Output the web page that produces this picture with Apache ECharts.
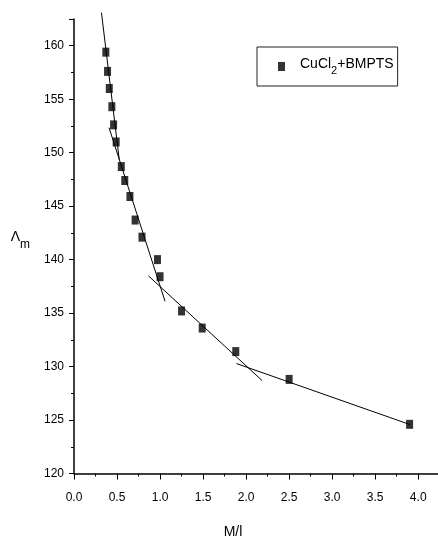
<!DOCTYPE html>
<html>
<head>
<meta charset="utf-8">
<script src="https://cdn.jsdelivr.net/npm/echarts@6/dist/echarts.min.js"></script>
<style>
html,body{margin:0;padding:0;background:#fff;}
#chart{width:438px;height:537px;}
</style>
</head>
<body>
<div id="chart"></div>
<script>
// Data
var seriesName = 'CuCl2+BMPTS';
var concentration = [0.37, 0.39, 0.41, 0.44, 0.46, 0.49, 0.55, 0.59, 0.65, 0.71, 0.79, 0.97, 1.00, 1.25, 1.49, 1.88, 2.50, 3.90];
var conductivity = [159.4, 157.6, 156.0, 154.3, 152.6, 151.0, 148.7, 147.4, 145.9, 143.7, 142.1, 140.0, 138.4, 135.2, 133.6, 131.4, 128.8, 124.6];
// Fitted straight-line segments (end points)
var fitLine1 = [[0.319, 163.1], [0.526, 149.35]];
var fitLine2 = [[0.407, 152.34], [1.058, 136.1]];
var fitLine3 = [[0.865, 138.48], [2.186, 128.69]];
var fitLine4 = [[1.888, 130.28], [3.903, 124.58]];
var xTicks = {min: 0, max: 4.23, interval: 0.5};
var yTicks = {min: 120, max: 162.5, interval: 5};

var FONT = "'Liberation Sans Narrow', 'Liberation Sans', Arial, sans-serif";
var chart = echarts.init(document.getElementById('chart'), null, {renderer: 'canvas'});

var points = concentration.map(function (x, i) { return [x, conductivity[i]]; });
function fit(data) {
  return {
    type: 'line', data: data, symbol: 'none', clip: false, silent: true,
    lineStyle: {color: '#000', width: 1}, z: 1
  };
}

var option = {
  backgroundColor: '#fff',
  animation: false,
  grid: {left: 74, top: 19, right: 0, bottom: 63.5, containLabel: false, outerBoundsMode: 'none'},
  legend: {
    data: [seriesName],
    left: 257, top: 47,
    orient: 'vertical',
    padding: [10, 4, 10, 21],
    borderColor: '#222', borderWidth: 1,
    itemWidth: 7, itemHeight: 9,
    icon: 'rect',
    formatter: function () { return '{a|CuCl}{s|2}{b|+BMPTS}'; },
    textStyle: {
      color: '#000', fontFamily: FONT,
      rich: {
        a: {fontSize: 14, fontFamily: FONT, color: '#000', padding: [0, 0, 0, 10], verticalAlign: 'top', lineHeight: 19},
        s: {fontSize: 11, fontFamily: FONT, color: '#000', verticalAlign: 'bottom', lineHeight: 19, padding: [6, 0, 0, 0]},
        b: {fontSize: 14, fontFamily: FONT, color: '#000', verticalAlign: 'top', lineHeight: 19}
      }
    }
  },
  xAxis: {
    type: 'value', min: xTicks.min, max: xTicks.max, interval: xTicks.interval,
    name: 'M/l', nameLocation: 'middle', nameGap: 52,
    nameTextStyle: {fontFamily: FONT, fontSize: 14, color: '#000', padding: [0, 46, 0, 0]},
    axisLine: {onZero: false, lineStyle: {color: '#000', width: 1.5}},
    axisTick: {inside: false, length: 6, lineStyle: {color: '#000', width: 1}},
    minorTick: {show: true, splitNumber: 2, length: 3, lineStyle: {color: '#000', width: 1}},
    axisLabel: {
      margin: 18, color: '#000', fontFamily: FONT, fontSize: 12, showMaxLabel: false,
      formatter: function (v) { return v.toFixed(1); }
    },
    splitLine: {show: false}
  },
  yAxis: {
    type: 'value', min: yTicks.min, max: yTicks.max, interval: yTicks.interval,
    name: '{a|Λ}{m|m}', nameLocation: 'middle', nameGap: 44, nameRotate: 0,
    nameTextStyle: {
      fontFamily: FONT, color: '#000', padding: [0, 0, 12, 0],
      rich: {
        a: {fontSize: 14, fontFamily: FONT, color: '#000', verticalAlign: 'top', lineHeight: 20},
        m: {fontSize: 12, fontFamily: FONT, color: '#000', verticalAlign: 'bottom', lineHeight: 20, padding: [7, 0, 0, 0]}
      }
    },
    axisLine: {onZero: false, lineStyle: {color: '#000', width: 1.5}},
    axisTick: {inside: false, length: 5, lineStyle: {color: '#000', width: 1}},
    minorTick: {show: true, splitNumber: 2, length: 3, lineStyle: {color: '#000', width: 1}},
    axisLabel: {margin: 10, color: '#000', fontFamily: FONT, fontSize: 12, showMaxLabel: false},
    splitLine: {show: false}
  },
  series: [
    fit(fitLine1), fit(fitLine2), fit(fitLine3), fit(fitLine4),
    {
      name: seriesName, type: 'scatter', data: points,
      symbol: 'rect', symbolSize: [7, 9],
      itemStyle: {color: '#000'}, z: 3
    }
  ]
};
chart.setOption(option);
</script>
</body>
</html>
